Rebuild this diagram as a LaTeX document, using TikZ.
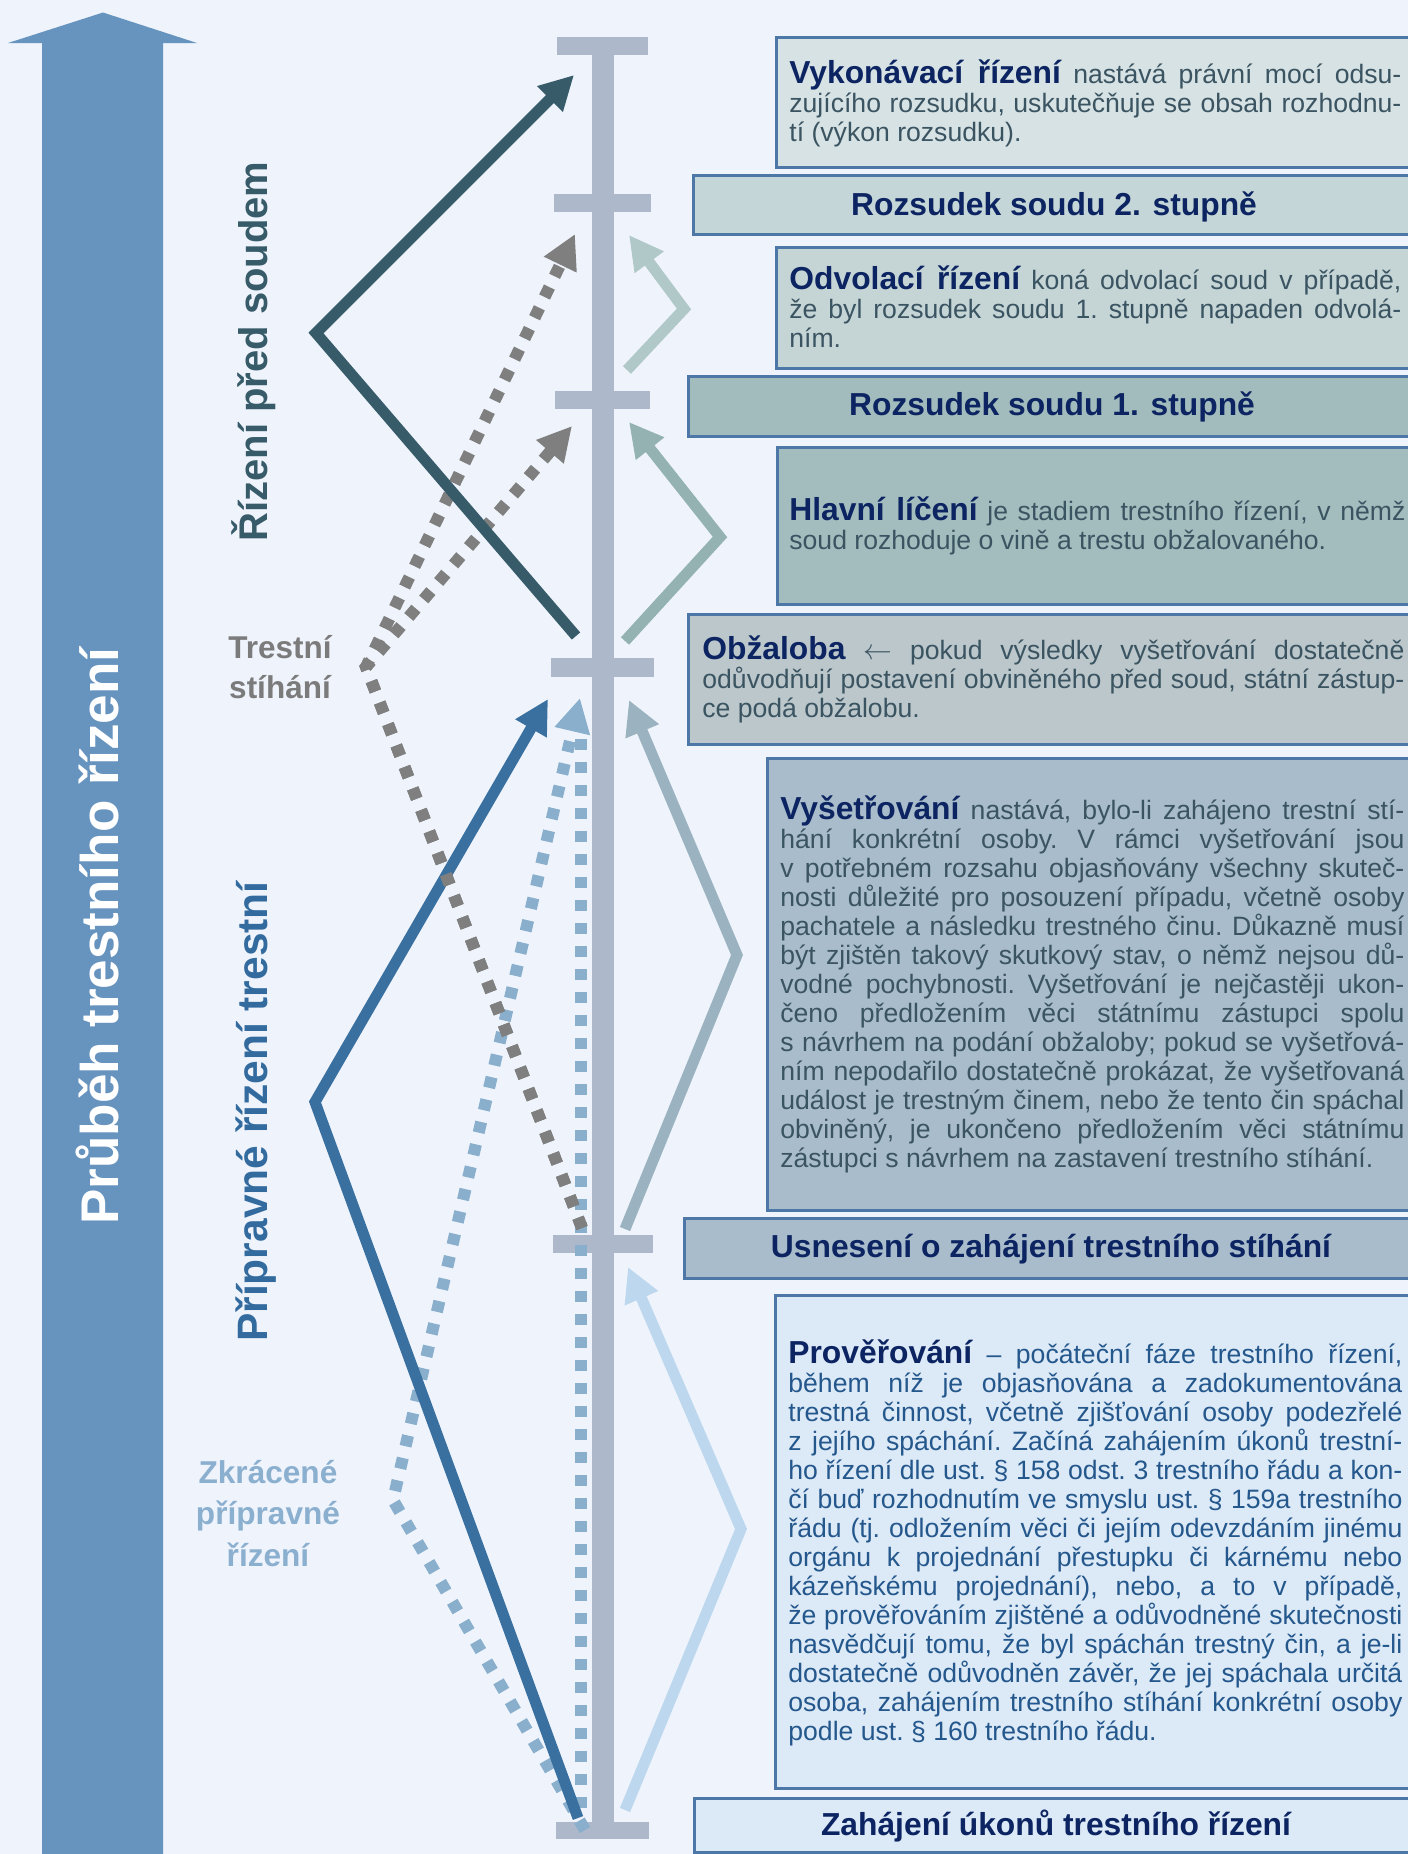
\documentclass[tikz,border=0pt]{standalone}
\usepackage{fontspec}
\setmainfont{Liberation Sans}
\usetikzlibrary{arrows.meta}

\definecolor{bg}{HTML}{EFF4FC}
\definecolor{bigarrow}{HTML}{6794BF}
\definecolor{barcol}{HTML}{ADB8CA}
\definecolor{bordercol}{HTML}{4C77A6}
\definecolor{navy}{HTML}{0C2461}
\definecolor{bodygray}{HTML}{3B5462}
\definecolor{bodyblue}{HTML}{24578C}
\definecolor{slate}{HTML}{375B69}
\definecolor{grayarr}{HTML}{7F7F7F}
\definecolor{odvarr}{HTML}{B1C8C9}
\definecolor{hlarr}{HTML}{93B2B1}
\definecolor{vysarr}{HTML}{9BB3C0}
\definecolor{provarr}{HTML}{BDD7EE}
\definecolor{dkblue}{HTML}{3A70A0}
\definecolor{ltblue}{HTML}{8AAFCD}
\definecolor{fVyk}{HTML}{D6E2E3}
\definecolor{fRtwo}{HTML}{C4D6D7}
\definecolor{fOdv}{HTML}{C5D5D6}
\definecolor{fRone}{HTML}{A2BCBD}
\definecolor{fHl}{HTML}{A3BDBE}
\definecolor{fObz}{HTML}{BBC7CA}
\definecolor{fVys}{HTML}{A9BCCB}
\definecolor{fUsn}{HTML}{A9BCCB}
\definecolor{fProv}{HTML}{DCE9F6}
\definecolor{fZah}{HTML}{DCE9F6}
\definecolor{labpriprav}{HTML}{336B9F}
\definecolor{labgray}{HTML}{7B7B7B}
\definecolor{labzkr}{HTML}{8BAFCF}

\newdimen\tw
\newcommand\jl[1]{\hbox to \tw{#1}}
\newcommand\lastln[1]{\hbox to \tw{#1\hfil}}
\newcommand\hd{\fontsize{15.9pt}{15.9pt}\selectfont\bfseries\color{navy}}
\newcommand\bodyf{\fontsize{13.3pt}{14.5pt}\selectfont\frenchspacing}
\newcommand\textblock[2]{\vtop{\tw=#1\relax\baselineskip=14.5pt\lineskiplimit=-100pt\lineskip=0pt #2}}

\begin{document}
\begin{tikzpicture}[x=0.5pt,y=-0.5pt,
  box/.style={draw=bordercol, line width=1.25pt, inner sep=0pt, anchor=north west},
  hdr/.style={anchor=base, inner sep=0pt, text=navy, font=\fontsize{15.9pt}{15.9pt}\selectfont\bfseries},
  txt/.style={anchor=base west, inner sep=0pt, font=\bodyf, text=bodygray},
  vlab/.style={rotate=90, anchor=base, inner sep=0pt},
  sidelab/.style={anchor=base, inner sep=0pt},
  solidarr/.style={line width=5.5pt, -{Triangle[length=17pt,width=17pt]}},
  dotline/.style={line width=6pt, dash pattern=on 5.5pt off 6pt},
  barcap/.style={fill=barcol}
]
\useasboundingbox (0,0) rectangle (1408,1854);
\fill[bg] (0,0) rectangle (1408,1854);

% big arrow
\fill[bigarrow] (42,1860) -- (42,43) -- (8,43) -- (103,12.5) -- (197,43) -- (163,43) -- (163,1860) -- cycle;
\node[vlab, text=white, font=\fontsize{26.5pt}{26.5pt}\selectfont\bfseries] (prubeh) at (118,936) {Průběh trestního řízení};

% vertical time bar
\fill[barcol] (592,37) rectangle (614,1839);
\fill[barcap] (557,37) rectangle (648,55);
\fill[barcap] (554,194) rectangle (651,212);
\fill[barcap] (555,391) rectangle (650,409);
\fill[barcap] (551,658) rectangle (654,677);
\fill[barcap] (553,1235) rectangle (653,1253);
\fill[barcap] (556,1822) rectangle (649,1839);

% boxes
\node[box, fill=fVyk, minimum width=321.5pt, minimum height=65pt] (vyk) at (775,36) {};
\node[box, fill=fRtwo, minimum width=363pt, minimum height=29.5pt] (r2) at (692,174) {};
\node[box, fill=fOdv, minimum width=321.5pt, minimum height=60.5pt] (odv) at (775,246) {};
\node[box, fill=fRone, minimum width=365.5pt, minimum height=30pt] (r1) at (687,375) {};
\node[box, fill=fHl, minimum width=321pt, minimum height=78.5pt] (hl) at (776,446) {};
\node[box, fill=fObz, minimum width=365.5pt, minimum height=65pt] (obz) at (687,613) {};
\node[box, fill=fVys, minimum width=326pt, minimum height=226pt] (vys) at (766,757) {};
\node[box, fill=fUsn, minimum width=367.5pt, minimum height=30pt] (usn) at (683,1217) {};
\node[box, fill=fProv, minimum width=322pt, minimum height=246.5pt] (prov) at (774,1294) {};
\node[box, fill=fZah, minimum width=362.5pt, minimum height=27pt] (zah) at (693,1797) {};

% header texts
\node[hdr] (r2t) at (1054,215) {Rozsudek soudu 2. stupně};
\node[hdr] (r1t) at (1052,415) {Rozsudek soudu 1. stupně};
\node[hdr] (usnt) at (1051,1257) {Usnesení o zahájení trestního stíhání};
\node[hdr] (zaht) at (1056,1835) {Zahájení úkonů trestního řízení};

% description texts
\node[txt] (vykt) at (789,83) {\textblock{306pt}{%
\jl{{\hd Vykonávací řízení} nastává právní mocí odsu-}%
\jl{zujícího rozsudku, uskutečňuje se obsah rozhodnu-}%
\lastln{tí (výkon rozsudku).}}};

\node[txt] (odvt) at (789,289) {\textblock{306pt}{%
\jl{{\hd Odvolací řízení} koná odvolací soud v případě,}%
\jl{že byl rozsudek soudu 1. stupně napaden odvolá-}%
\lastln{ním.}}};

\node[txt] (hlt) at (789,520) {\textblock{308pt}{%
\jl{{\hd Hlavní líčení} je stadiem trestního řízení, v němž}%
\lastln{soud rozhoduje o vině a trestu obžalovaného.}}};

\node[txt] (obzt) at (702,659) {\textblock{351pt}{%
\jl{{\hd Obžaloba} $\leftarrow$ pokud výsledky vyšetřování dostatečně}%
\jl{odůvodňují postavení obviněného před soud, státní zástup-}%
\lastln{ce podá obžalobu.}}};

\node[txt] (vyst) at (780,819) {\textblock{312pt}{%
\jl{{\hd Vyšetřování} nastává, bylo-li zahájeno trestní stí-}%
\jl{hání konkrétní osoby. V rámci vyšetřování jsou}%
\jl{v potřebném rozsahu objasňovány všechny skuteč-}%
\jl{nosti důležité pro posouzení případu, včetně osoby}%
\jl{pachatele a následku trestného činu. Důkazně musí}%
\jl{být zjištěn takový skutkový stav, o němž nejsou dů-}%
\jl{vodné pochybnosti. Vyšetřování je nejčastěji ukon-}%
\jl{čeno předložením věci státnímu zástupci spolu}%
\jl{s návrhem na podání obžaloby; pokud se vyšetřová-}%
\jl{ním nepodařilo dostatečně prokázat, že vyšetřovaná}%
\jl{událost je trestným činem, nebo že tento čin spáchal}%
\jl{obviněný, je ukončeno předložením věci státnímu}%
\lastln{zástupci s návrhem na zastavení trestního stíhání.}}};

\node[txt, text=bodyblue] (provt) at (788,1363) {\textblock{307pt}{%
\jl{{\hd Prověřování} – počáteční fáze trestního řízení,}%
\jl{během níž je objasňována a zadokumentována}%
\jl{trestná činnost, včetně zjišťování osoby podezřelé}%
\jl{z jejího spáchání. Začíná zahájením úkonů trestní-}%
\jl{ho řízení dle ust. § 158 odst. 3 trestního řádu a kon-}%
\jl{čí buď rozhodnutím ve smyslu ust. § 159a trestního}%
\jl{řádu (tj. odložením věci či jejím odevzdáním jinému}%
\jl{orgánu k projednání přestupku či kárnému nebo}%
\jl{kázeňskému projednání), nebo, a to v případě,}%
\jl{že prověřováním zjištěné a odůvodněné skutečnosti}%
\jl{nasvědčují tomu, že byl spáchán trestný čin, a je-li}%
\jl{dostatečně odůvodněn závěr, že jej spáchala určitá}%
\jl{osoba, zahájením trestního stíhání konkrétní osoby}%
\lastln{podle ust. § 160 trestního řádu.}}};

% left labels
\node[vlab, text=slate, font=\fontsize{20pt}{20pt}\selectfont\bfseries] (pred) at (267,351.5) {Řízení před soudem};
\node[vlab, text=labpriprav, font=\fontsize{21.25pt}{21.25pt}\selectfont\bfseries] (priprav) at (267,1111.5) {Přípravné řízení trestní};
\node[sidelab, text=labgray, font=\fontsize{15.75pt}{20pt}\selectfont\bfseries] (stih) at (280,658) {\begin{tabular}[t]{@{}c@{}}Trestní\\stíhání\end{tabular}};
\node[sidelab, text=labzkr, font=\fontsize{15.8pt}{20.75pt}\selectfont\bfseries] (zkr) at (268,1483) {\begin{tabular}[t]{@{}c@{}}Zkrácené\\přípravné\\řízení\end{tabular}};

% arrow coordinates
\coordinate (s0) at (576,636); \coordinate (s1) at (316,333); \coordinate (s2) at (574,75);
\coordinate (g0) at (582,1228); \coordinate (g1) at (366,667); \coordinate (g2) at (575,234); \coordinate (g3) at (572,426);
\coordinate (o0) at (627,370); \coordinate (o1) at (684,309); \coordinate (o2) at (629,235);
\coordinate (h0) at (625,641); \coordinate (h1) at (720,537); \coordinate (h2) at (629,422);
\coordinate (v0) at (625,1229); \coordinate (v1) at (737,955); \coordinate (v2) at (629,700);
\coordinate (p0) at (625,1810); \coordinate (p1) at (741,1529); \coordinate (p2) at (628,1267);
\coordinate (b0) at (578,1818); \coordinate (b1) at (315,1102); \coordinate (b2) at (548,699);
\coordinate (l0) at (585,1830); \coordinate (l1) at (393,1500); \coordinate (l2) at (580,698);
\coordinate (m0) at (581,1808); \coordinate (m1) at (581,730);

% arrows
\draw[dotline, ltblue] (m0) -- (m1);
\draw[dotline, ltblue, -{Triangle[length=17pt,width=17pt]}] (l0) -- (l1) -- (l2);
\draw[solidarr, dkblue] (b0) -- (b1) -- (b2);
\draw[solidarr, provarr] (p0) -- (p1) -- (p2);
\draw[solidarr, vysarr] (v0) -- (v1) -- (v2);
\draw[dotline, grayarr, -{Triangle[length=17pt,width=17pt]}] (g0) -- (g1) -- (g2);
\draw[dotline, grayarr, -{Triangle[length=17pt,width=17pt]}] (g0) -- (g1) -- (g3);
\draw[solidarr, hlarr] (h0) -- (h1) -- (h2);
\draw[solidarr, odvarr] (o0) -- (o1) -- (o2);
\draw[solidarr, slate] (s0) -- (s1) -- (s2);
\end{tikzpicture}
\end{document}
